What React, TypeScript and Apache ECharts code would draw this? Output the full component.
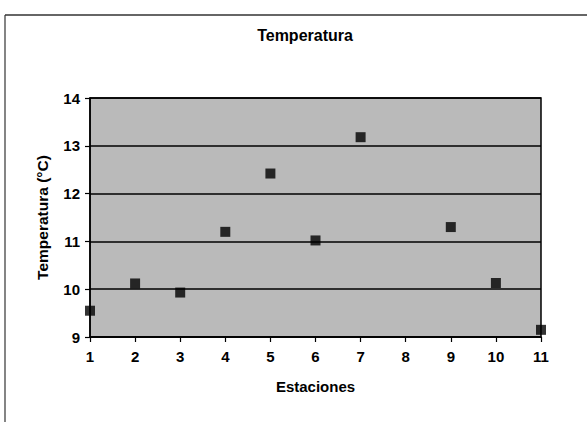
import React, { useEffect, useRef } from "react";
import * as echarts from "echarts";

const estaciones = [1, 2, 3, 4, 5, 6, 7, 9, 10, 11];
const temperaturas = [9.55, 10.12, 9.93, 11.2, 12.42, 11.02, 13.18, 11.3, 10.13, 9.15];
const xTicks = [1, 2, 3, 4, 5, 6, 7, 8, 9, 10, 11];
const yTicks = [9, 10, 11, 12, 13, 14];

const FONT = "'Liberation Sans', Arial, sans-serif";

export default function App() {
  const ref = useRef<HTMLDivElement>(null);
  useEffect(() => {
    if (!ref.current) return;
    const chart = echarts.init(ref.current, undefined, { renderer: "svg" });
    const data = estaciones.map((x, i) => [x, temperaturas[i]]);
    chart.setOption({
      animation: false,
      backgroundColor: "#ffffff",
      title: {
        text: "Temperatura",
        left: 300,
        top: 22,
        textAlign: "center",
        textStyle: { fontFamily: FONT, fontSize: 16, fontWeight: "bold", color: "#000" },
      },
      grid: {
        left: 90,
        right: 46,
        top: 98,
        bottom: 85,
        show: true,
        backgroundColor: "#bababa",
        borderColor: "#000",
        borderWidth: 1.5,
      },
      xAxis: {
        type: "value",
        min: xTicks[0],
        max: xTicks[xTicks.length - 1],
        interval: 1,
        name: "Estaciones",
        nameLocation: "middle",
        nameGap: 42,
        nameTextStyle: { fontFamily: FONT, fontSize: 15, fontWeight: "bold", color: "#000" },
        axisLine: { show: true, lineStyle: { color: "#000", width: 1.5 } },
        axisTick: { show: true, length: 5, lineStyle: { color: "#000", width: 1.2 } },
        axisLabel: { fontFamily: FONT, fontSize: 15, fontWeight: "bold", color: "#000", margin: 12 },
        splitLine: { show: false },
      },
      yAxis: {
        type: "value",
        min: yTicks[0],
        max: yTicks[yTicks.length - 1],
        interval: 1,
        name: "Temperatura (°C)",
        nameLocation: "middle",
        nameGap: 40,
        nameTextStyle: { fontFamily: FONT, fontSize: 15.5, fontWeight: "bold", color: "#000" },
        axisLine: { show: true, lineStyle: { color: "#000", width: 1.5 } },
        axisTick: { show: true, length: 5, lineStyle: { color: "#000", width: 1.2 } },
        axisLabel: { fontFamily: FONT, fontSize: 15, fontWeight: "bold", color: "#000", margin: 10 },
        splitLine: { show: true, lineStyle: { color: "#000", width: 1.5 } },
      },
      series: [
        {
          type: "scatter",
          data,
          symbol: "rect",
          symbolSize: 10,
          itemStyle: { color: "#000" },
        },
      ],
      graphic: [
        {
          type: "line",
          shape: { x1: 5, y1: 15, x2: 587, y2: 15 },
          style: { stroke: "#333", lineWidth: 1.5 },
        },
        {
          type: "line",
          shape: { x1: 5, y1: 15, x2: 5, y2: 422 },
          style: { stroke: "#333", lineWidth: 1.2 },
        },
      ],
    });
    return () => chart.dispose();
  }, []);
  return <div ref={ref} style={{ width: 587, height: 422, position: "absolute", left: 0, top: 0 }} />;
}
